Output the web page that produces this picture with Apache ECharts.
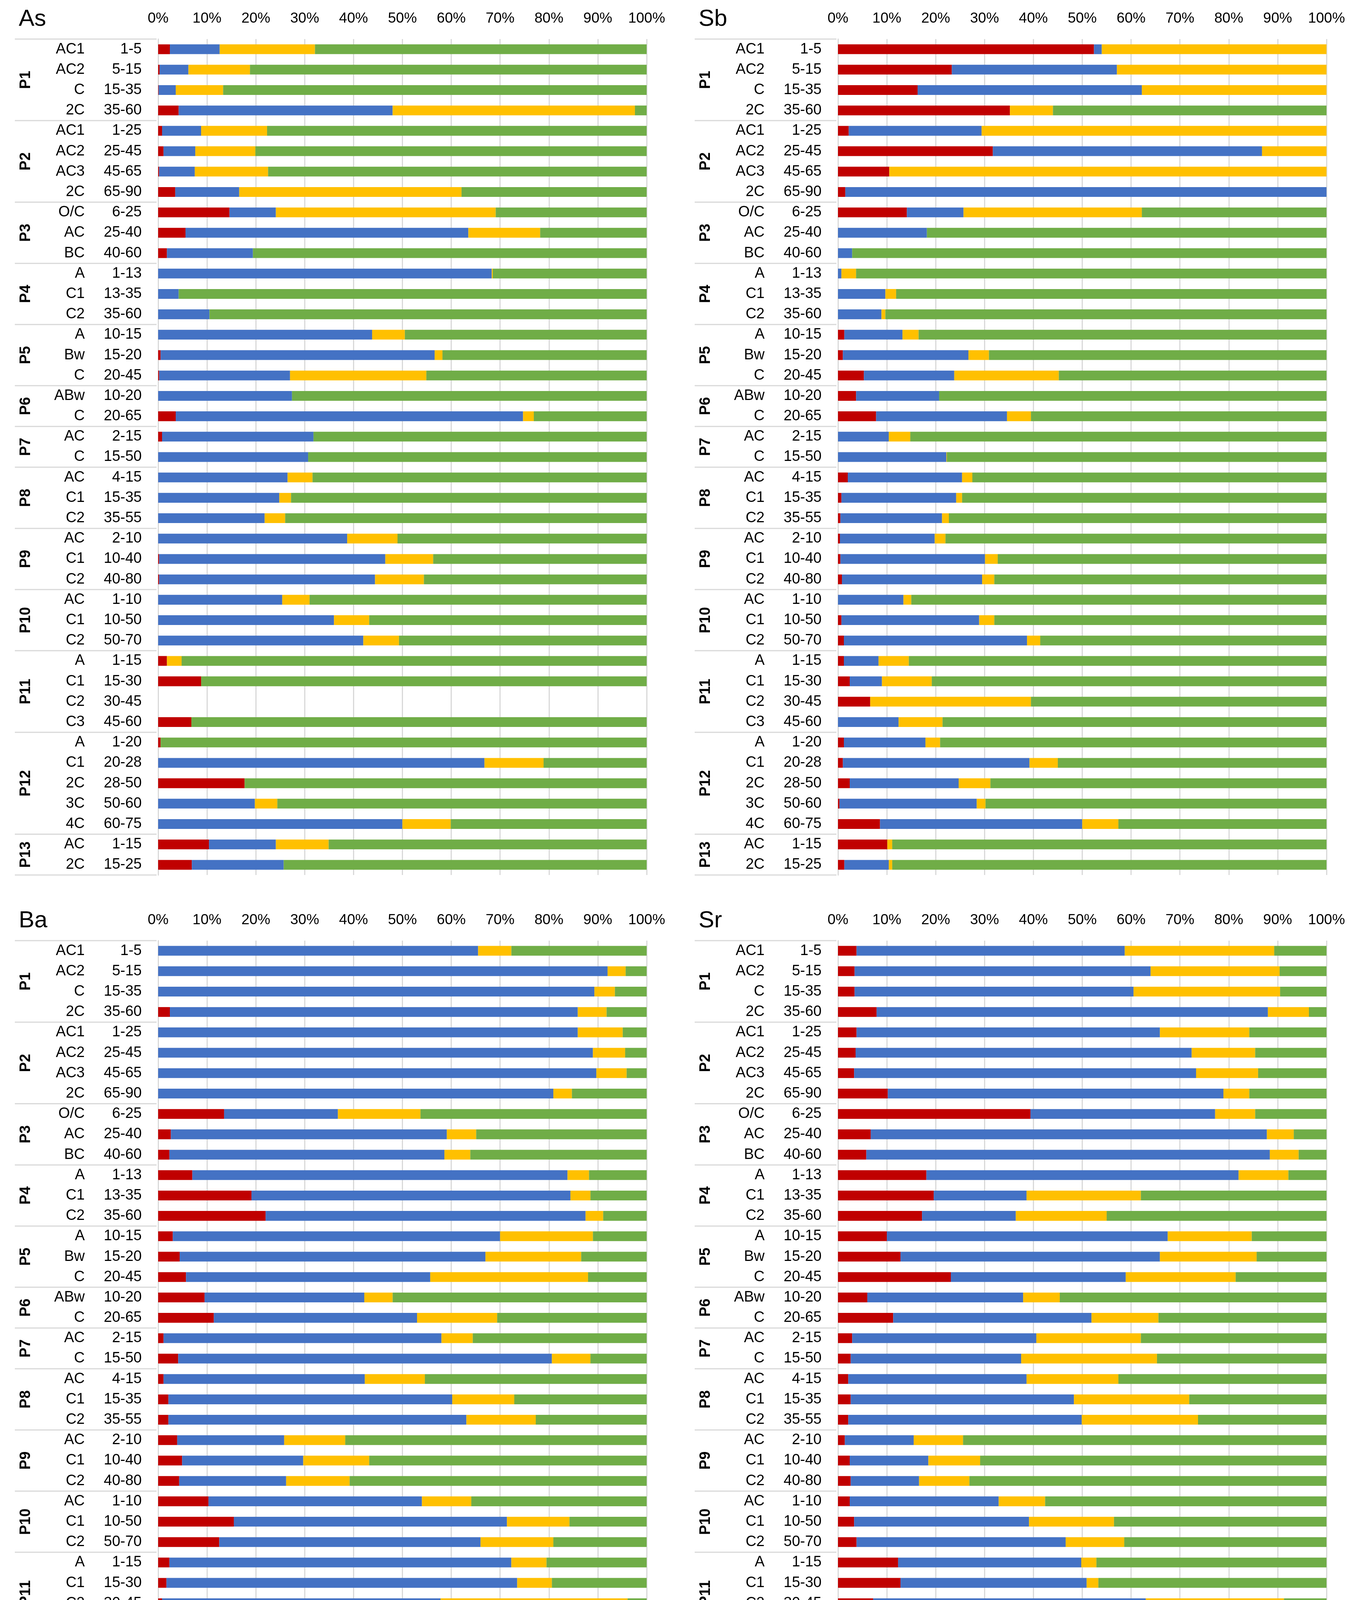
<!DOCTYPE html>
<html>
<head>
<meta charset="utf-8">
<title>As, Sb, Ba, Sr fractions</title>
<script src="https://cdn.jsdelivr.net/npm/echarts@6/dist/echarts.min.js"></script>
<style>
  html, body { margin: 0; padding: 0; background: #fff; }
  #main { width: 3470px; height: 4670px; }
</style>
</head>
<body>
<div id="main"></div>
<script>
// profiles and horizons (rows, top to bottom)
const groups = ['P1', 'P2', 'P3', 'P4', 'P5', 'P6', 'P7', 'P8', 'P9', 'P10', 'P11', 'P12', 'P13'];
const groupSizes = [4, 4, 3, 3, 3, 2, 2, 3, 3, 3, 4, 5, 2];
const horizons = ['AC1', 'AC2', 'C', '2C', 'AC1', 'AC2', 'AC3', '2C', 'O/C', 'AC', 'BC', 'A', 'C1', 'C2',
  'A', 'Bw', 'C', 'ABw', 'C', 'AC', 'C', 'AC', 'C1', 'C2', 'AC', 'C1', 'C2', 'AC', 'C1', 'C2',
  'A', 'C1', 'C2', 'C3', 'A', 'C1', '2C', '3C', '4C', 'AC', '2C'];
const depths = ['1-5', '5-15', '15-35', '35-60', '1-25', '25-45', '45-65', '65-90', '6-25', '25-40', '40-60',
  '1-13', '13-35', '35-60', '10-15', '15-20', '20-45', '10-20', '20-65', '2-15', '15-50', '4-15', '15-35',
  '35-55', '2-10', '10-40', '40-80', '1-10', '10-50', '50-70', '1-15', '15-30', '30-45', '45-60', '1-20',
  '20-28', '28-50', '50-60', '60-75', '1-15', '15-25'];

const fractions = ['F1', 'F2', 'F3', 'F4'];
const colors = ['#C00000', '#4472C4', '#FFC000', '#70AD47'];
const xTicks = [0, 10, 20, 30, 40, 50, 60, 70, 80, 90, 100];

// As (%)
const asF1 = [2.4, 0.3, 0.1, 4.2, 0.8, 1.1, 0.2, 3.5, 14.6, 5.6, 1.8, 0, 0, 0, 0, 0.5, 0.2, 0, 3.6, 0.8, 0,
  0, 0, 0, 0, 0.2, 0.2, 0, 0, 0, 1.8, 8.8, null, 6.8, 0.5, 0, 17.7, 0, 0, 10.4, 6.9];
const asF2 = [10.2, 5.9, 3.5, 43.8, 8.0, 6.5, 7.3, 13.1, 9.5, 57.9, 17.6, 68.3, 4.2, 10.5, 43.8, 56.1, 26.8,
  27.4, 71.1, 31.0, 30.7, 26.5, 24.8, 21.8, 38.7, 46.3, 44.2, 25.4, 36.0, 42.0, 0, 0, null, 0, 0, 66.8, 0,
  19.8, 50.0, 13.7, 18.8];
const asF3 = [19.5, 12.6, 9.7, 49.6, 13.5, 12.3, 15.0, 45.5, 45.0, 14.7, 0, 0.2, 0, 0, 6.7, 1.6, 27.9, 0,
  2.2, 0, 0, 5.1, 2.4, 4.2, 10.3, 9.8, 10.0, 5.6, 7.2, 7.3, 3.0, 0, null, 0, 0, 12.1, 0, 4.6, 9.9, 10.8, 0];
const asF4 = [67.9, 81.2, 86.7, 2.4, 77.7, 80.1, 77.5, 37.9, 30.9, 21.8, 80.6, 31.5, 95.8, 89.5, 49.5, 41.8,
  45.1, 72.6, 23.1, 68.2, 69.3, 68.4, 72.8, 74.0, 51.0, 43.7, 45.6, 69.0, 56.8, 50.7, 95.2, 91.2, null, 93.2,
  99.5, 21.1, 82.3, 75.6, 40.1, 65.1, 74.3];

// Sb (%)
const sbF1 = [52.4, 23.3, 16.3, 35.2, 2.2, 31.7, 10.5, 1.5, 14.1, 0, 0, 0, 0, 0, 1.3, 1.0, 5.3, 3.7, 7.8, 0,
  0, 2.0, 0.7, 0.5, 0.4, 0.5, 0.8, 0, 0.7, 1.2, 1.2, 2.4, 6.6, 0, 1.2, 1.0, 2.4, 0.3, 8.6, 10.1, 1.3];
const sbF2 = [1.6, 33.8, 45.9, 0, 27.2, 55.1, 0, 98.5, 11.6, 18.2, 2.9, 0.7, 9.7, 8.9, 11.9, 25.7, 18.5, 17.0,
  26.8, 10.4, 22.2, 23.4, 23.5, 20.8, 19.4, 29.6, 28.7, 13.4, 28.2, 37.5, 7.1, 6.6, 0, 12.4, 16.7, 38.2, 22.3,
  28.1, 41.4, 0, 9.1];
const sbF3 = [46.0, 42.9, 37.8, 8.8, 70.6, 13.2, 89.5, 0, 36.5, 0, 0, 3.0, 2.2, 0.8, 3.3, 4.2, 21.4, 0, 4.9,
  4.4, 0.1, 2.1, 1.2, 1.4, 2.2, 2.6, 2.5, 1.6, 3.1, 2.7, 6.2, 10.2, 32.9, 9.0, 3.0, 5.8, 6.5, 1.8, 7.4, 1.0, 0.7];
const sbF4 = [0, 0, 0, 56.0, 0, 0, 0, 0, 37.8, 81.8, 97.1, 96.3, 88.1, 90.3, 83.5, 69.1, 54.8, 79.3, 60.5,
  85.2, 77.7, 72.5, 74.6, 77.3, 78.0, 67.3, 68.0, 85.0, 68.0, 58.6, 85.5, 80.8, 60.5, 78.6, 79.1, 55.0, 68.8,
  69.8, 42.6, 88.9, 88.9];

// Ba (%)
const baF1 = [0, 0, 0, 2.4, 0, 0, 0, 0, 13.5, 2.6, 2.3, 7.0, 19.1, 22.0, 3.0, 4.4, 5.7, 9.5, 11.4, 1.1, 4.1,
  1.1, 2.1, 2.1, 3.9, 4.9, 4.3, 10.3, 15.5, 12.5, 2.3, 1.7, 0.8, 0.8, 3.2, 3.3, 1.0, 6.3, 9.2, 15.5, 37.2];
const baF2 = [65.5, 92.0, 89.3, 83.5, 85.9, 89.0, 89.7, 80.9, 23.3, 56.5, 56.3, 76.8, 65.3, 65.5, 67.0, 62.6,
  50.0, 32.7, 41.6, 56.9, 76.5, 41.2, 58.1, 61.0, 21.9, 24.8, 21.9, 43.7, 55.9, 53.5, 70.0, 71.8, 57.0, 70.4,
  84.8, 41.6, 64.2, 56.7, 72.6, 50.2, 30.9];
const baF3 = [6.8, 3.7, 4.2, 5.9, 9.2, 6.6, 6.2, 3.8, 16.9, 6.0, 5.3, 4.4, 4.1, 3.6, 19.0, 19.6, 32.3, 5.8,
  16.4, 6.4, 7.9, 12.3, 12.7, 14.2, 12.5, 13.5, 13.0, 10.1, 12.8, 14.9, 7.2, 7.1, 38.3, 24.5, 7.6, 21.9, 31.7,
  6.7, 10.0, 20.7, 4.8];
const baF4 = [27.7, 4.3, 6.5, 8.2, 4.9, 4.4, 4.1, 15.3, 46.3, 34.9, 36.1, 11.8, 11.5, 8.9, 11.0, 13.4, 12.0,
  52.0, 30.6, 35.6, 11.5, 45.4, 27.1, 22.7, 61.7, 56.8, 60.8, 35.9, 15.8, 19.1, 20.5, 19.4, 3.9, 4.3, 4.4,
  33.2, 3.1, 30.3, 8.2, 13.6, 27.1];

// Sr (%)
const srF1 = [3.8, 3.4, 3.4, 7.9, 3.8, 3.6, 3.3, 10.2, 39.4, 6.7, 5.8, 18.1, 19.6, 17.2, 10.0, 12.8, 23.1,
  6.0, 11.3, 2.9, 2.6, 2.1, 2.6, 2.1, 1.4, 2.4, 2.6, 2.4, 3.3, 3.8, 12.3, 12.8, 7.2, 9.1, 14.0, 10.4, 8.4,
  18.1, 31.4, 24.6, 57.8];
const srF2 = [54.9, 60.6, 57.1, 80.1, 62.1, 68.8, 70.0, 68.7, 37.8, 81.1, 82.6, 63.9, 19.0, 19.2, 57.5, 53.1,
  35.8, 31.9, 40.6, 37.7, 34.9, 36.5, 45.7, 47.8, 14.1, 16.1, 14.0, 30.5, 35.8, 42.8, 37.5, 38.1, 55.8, 77.6,
  67.4, 32.0, 80.0, 47.6, 46.3, 46.4, 10.7];
const srF3 = [30.6, 26.4, 30.0, 8.4, 18.3, 13.0, 12.7, 5.3, 8.2, 5.5, 5.9, 10.2, 23.4, 18.6, 17.2, 19.8, 22.5,
  7.5, 13.7, 21.4, 27.8, 18.8, 23.6, 23.8, 10.1, 10.6, 10.3, 9.5, 17.4, 12.0, 3.1, 2.4, 28.3, 8.5, 3.1, 16.5,
  9.3, 6.0, 5.1, 18.3, 2.3];
const srF4 = [10.7, 9.6, 9.5, 3.6, 15.8, 14.6, 14.0, 15.8, 14.6, 6.7, 5.7, 7.8, 38.0, 45.0, 15.3, 14.3, 18.6,
  54.6, 34.4, 38.0, 34.7, 42.6, 28.1, 26.3, 74.4, 70.9, 73.1, 57.6, 43.5, 41.4, 47.1, 46.7, 8.7, 4.8, 15.5,
  41.1, 2.3, 28.3, 17.2, 10.7, 29.2];

const elements = ['As', 'Sb', 'Ba', 'Sr'];
const elementData = [
  [asF1, asF2, asF3, asF4],
  [sbF1, sbF2, sbF3, sbF4],
  [baF1, baF2, baF3, baF4],
  [srF1, srF2, srF3, srF4]
];

const FONT = '"Liberation Sans Narrow", "Liberation Sans", Arial, sans-serif';
const gridLeft = [405, 2146, 405, 2146];
const gridTop = [100, 100, 2408, 2408];
const gridW = 1251;
const gridH = 2140;

const rowNames = horizons.map(function (h, i) { return i + ''; });

const myChart = echarts.init(document.getElementById('main'));

const grids = [], xAxes = [], yAxes = [], titles = [], mySeries = [];
elements.forEach(function (el, p) {
  grids.push({ left: gridLeft[p], top: gridTop[p], width: gridW, height: gridH });
  titles.push({
    text: el, left: gridLeft[p] - 362, top: gridTop[p] - 86,
    textStyle: { fontFamily: FONT, fontSize: 60, fontWeight: 'normal', color: '#000' }
  });
  xAxes.push({
    type: 'value', gridIndex: p, position: 'top', min: xTicks[0], max: xTicks[xTicks.length - 1],
    interval: xTicks[1] - xTicks[0],
    axisLine: { show: false }, axisTick: { show: false },
    splitLine: { lineStyle: { color: '#d9d9d9', width: 3 } },
    axisLabel: { formatter: '{value}%', margin: 34, fontFamily: FONT, fontSize: 37, color: '#000' }
  });
  yAxes.push({
    type: 'category', gridIndex: p, inverse: true, data: rowNames,
    axisLine: { lineStyle: { color: '#d9d9d9', width: 3 } },
    axisTick: { show: false },
    axisLabel: {
      margin: 42,
      formatter: function (v, i) { return '{h|' + horizons[i] + '}{d|' + depths[i] + '}'; },
      rich: {
        h: { width: 150, align: 'right', fontFamily: FONT, fontSize: 38, color: '#000' },
        d: { width: 146, align: 'right', fontFamily: FONT, fontSize: 38, color: '#000' }
      }
    }
  });
  fractions.forEach(function (f, k) {
    mySeries.push({
      name: f, type: 'bar', stack: el, xAxisIndex: p, yAxisIndex: p,
      barWidth: '48%', itemStyle: { color: colors[k] },
      data: elementData[p][k]
    });
  });
});

myChart.setOption({
  backgroundColor: '#fff',
  animation: false,
  title: titles,
  grid: grids,
  xAxis: xAxes,
  yAxis: yAxes,
  legend: {
    data: fractions, bottom: 36, left: 'center', itemWidth: 28, itemHeight: 30, itemGap: 42,
    textStyle: { fontFamily: FONT, fontSize: 38, color: '#000' }
  },
  series: mySeries
});

// profile labels and separators beside each y axis
const graphics = [];
elements.forEach(function (el, p) {
  const y0 = myChart.convertToPixel({ yAxisIndex: p }, 0);
  const y1 = myChart.convertToPixel({ yAxisIndex: p }, 1);
  const half = (y1 - y0) / 2;
  const x1 = gridLeft[p] - 367, x2 = gridLeft[p] - 4;
  let start = 0;
  groups.forEach(function (g, gi) {
    const end = start + groupSizes[gi] - 1;
    const top = myChart.convertToPixel({ yAxisIndex: p }, start) - half;
    const bot = myChart.convertToPixel({ yAxisIndex: p }, end) + half;
    if (gi === 0) {
      graphics.push({ type: 'line', shape: { x1: x1, y1: top, x2: x2, y2: top }, style: { stroke: '#d9d9d9', lineWidth: 3 } });
    }
    graphics.push({ type: 'line', shape: { x1: x1, y1: bot, x2: x2, y2: bot }, style: { stroke: '#d9d9d9', lineWidth: 3 } });
    graphics.push({
      type: 'text', x: gridLeft[p] - 338, y: (top + bot) / 2, rotation: Math.PI / 2,
      style: { text: g, fontFamily: FONT, fontSize: 38, fontWeight: 'bold', fill: '#000', textAlign: 'center', textVerticalAlign: 'middle' }
    });
    start = end + 1;
  });
});
myChart.setOption({ graphic: graphics });
</script>
</body>
</html>
